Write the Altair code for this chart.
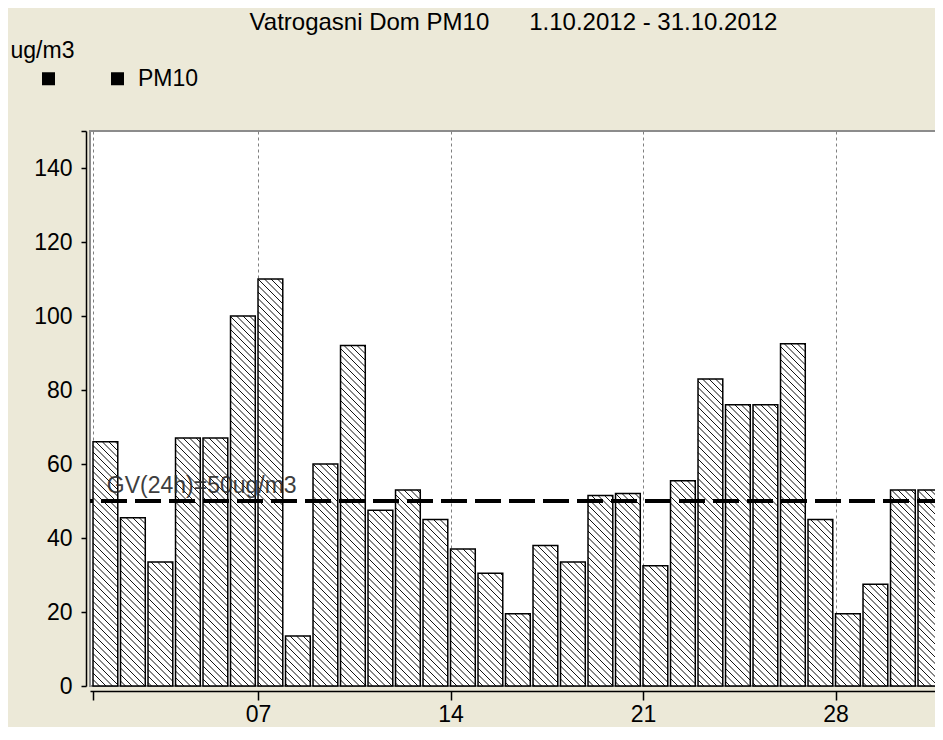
import math
import altair as alt
import pandas as pd

# ---------------- data ----------------
days = list(range(1, 32))
pm10 = [66, 45.5, 33.5, 67, 67, 100, 110, 13.5, 60, 92,
        47.5, 53, 45, 37, 30.5, 19.5, 38, 33.5, 51.5, 52,
        32.5, 55.5, 83, 76, 76, 92.5, 45, 19.5, 27.5, 53, 53]
limit_value = 50
limit_label = "GV(24h)=50ug/m3"
title_text = "Vatrogasni Dom PM10" + "\u00a0" * 6 + "1.10.2012 - 31.10.2012"
unit_label = "ug/m3"
series_names = [" ", "PM10"]
x_ticks = [1, 7, 14, 21, 28]
y_ticks = [0, 20, 40, 60, 80, 100, 120, 140, 150]

FONT = "Liberation Sans"
BG = "#ECE9D8"

# ---------------- geometry of the plot ----------------
PLOT_W = 853
PLOT_H = 555
X0 = 0.89
PX_DAY = 27.5
X_DOMAIN = [X0, X0 + PLOT_W / PX_DAY]
Y_DOMAIN = [0, 150]
PX_UNIT = PLOT_H / (Y_DOMAIN[1] - Y_DOMAIN[0])
BAR_FRAC = 0.9
HATCH_SP = 6.5
TOP_PAD = 123

bars = pd.DataFrame({
    "day": days,
    "day_end": [d + BAR_FRAC for d in days],
    "value": pm10,
    "series": ["PM10"] * len(days),
})

# hatch segments (\\\\ pattern) derived from each bar's rectangle
segs = []
for d, v in zip(days, pm10):
    W = BAR_FRAC * PX_DAY
    H = v * PX_UNIT
    x0g = (d - 1) * PX_DAY
    k0 = math.ceil(x0g / HATCH_SP)
    k1 = math.floor((x0g + W + H) / HATCH_SP)
    for k in range(k0, k1 + 1):
        c = k * HATCH_SP - x0g
        xa = max(0.0, c - H)
        xb = min(W, c)
        if xb - xa > 0.5:
            segs.append({
                "day": d + xa / PX_DAY, "value": (c - xa) / PX_UNIT,
                "day_end": d + xb / PX_DAY, "value_end": (c - xb) / PX_UNIT,
            })
hatch = pd.DataFrame(segs)

xscale = alt.Scale(domain=X_DOMAIN, nice=False, zero=False)
yscale = alt.Scale(domain=Y_DOMAIN, nice=False, zero=False)

# page-position corrections (plot top sits at 8 + TOP_PAD)
shift = 126 - TOP_PAD

x_axis = alt.Axis(
    values=x_ticks,
    labelExpr="datum.value == 1 ? '' : (datum.value < 10 ? '0' + datum.value : '' + datum.value)",
    grid=True, gridDash=[3, 3], gridColor="#808080", gridWidth=1,
    domainColor="black", domainWidth=1.5,
    tickColor="black", tickSize=9, tickWidth=1.5,
    labelFont=FONT, labelFontSize=23, labelColor="black", labelPadding=3,
    labelFlush=False, offset=5,
)
y_axis = alt.Axis(
    values=y_ticks, grid=False,
    labelExpr="datum.value == 150 ? '' : '' + datum.value",
    domainColor="black", domainWidth=1.5,
    tickColor="black", tickSize=5, tickWidth=1.5,
    labelFont=FONT, labelFontSize=23, labelColor="black", labelPadding=9,
    offset=4,
    titleAngle=0, titleX=-76, titleY=-77 + shift,
    titleAlign="left", titleBaseline="alphabetic",
    titleFont=FONT, titleFontSize=23, titleFontWeight="normal", titleColor="black",
)


def X(field):
    return alt.X(field, scale=xscale, axis=x_axis, title=None)


def Y(field):
    return alt.Y(field, scale=yscale, axis=y_axis, title=unit_label)


base = alt.Chart(bars)

bar_fill = base.mark_rect(fill="white", strokeWidth=0).encode(
    x=X("day:Q"), x2="day_end:Q", y=Y("value:Q"), y2=alt.datum(0),
)

hatch_layer = alt.Chart(hatch).mark_rule(color="#111111", strokeWidth=1).encode(
    x=X("day:Q"), x2="day_end:Q", y=Y("value:Q"), y2="value_end:Q",
)

bar_outline = base.mark_rect(fillOpacity=0, stroke="black", strokeWidth=1.5).encode(
    x=X("day:Q"), x2="day_end:Q", y=Y("value:Q"), y2=alt.datum(0),
)

limit_df = pd.DataFrame({"value": [limit_value], "t": [limit_label], "day": [1.5]})

limit_rule = alt.Chart(limit_df).mark_rule(
    color="black", strokeWidth=4, strokeDash=[26, 8]
).encode(y=Y("value:Q"))

limit_text = alt.Chart(limit_df).mark_text(
    align="left", baseline="alphabetic", dy=-8, font=FONT, fontSize=23, color="#2a2a2a", opacity=0.9
).encode(x=X("day:Q"), y=Y("value:Q"), text="t:N")

legend_layer = base.transform_filter("false").mark_square(filled=True).encode(
    x=X("day:Q"),
    y=Y("value:Q"),
    color=alt.Color(
        "series:N",
        scale=alt.Scale(domain=series_names, range=["black", "black"]),
        legend=alt.Legend(
            orient="none", legendX=-53, legendY=-67 + shift, direction="horizontal",
            title=None, symbolType="square", symbolSize=169, symbolStrokeWidth=0,
            symbolOpacity=1, symbolFillColor="black",
            labelFont=FONT, labelFontSize=23, labelColor="black", labelOffset=9,
            columnPadding=37, padding=0,
        ),
    ),
)

chart = alt.layer(
    bar_fill, hatch_layer, bar_outline, limit_rule, limit_text, legend_layer
).properties(
    width=PLOT_W, height=PLOT_H,
    title=alt.TitleParams(
        title_text, anchor="middle", frame="group", offset=9, dy=24, dx=-3,
        baseline="alphabetic",
        font=FONT, fontSize=24, fontWeight="normal", color="black",
    ),
    autosize=alt.AutoSizeParams(type="none"),
    padding={"left": 82, "top": TOP_PAD, "right": -8, "bottom": 719 - TOP_PAD - PLOT_H},
    background=BG,
).configure_view(
    stroke="#8c8c8c", strokeWidth=2, fill="white"
)

chart.save("out.html", embed_options={"renderer": "svg", "actions": False})
